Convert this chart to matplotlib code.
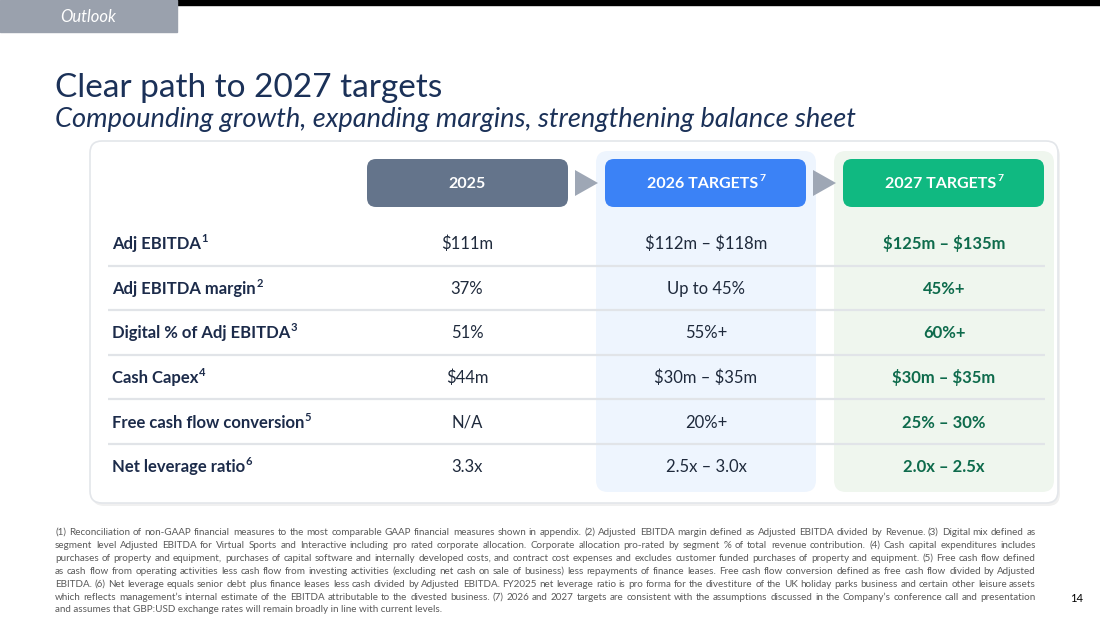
import matplotlib
matplotlib.use("Agg")
import matplotlib.pyplot as plt
from matplotlib.patches import FancyBboxPatch, Rectangle, Polygon

# ---------------- data ----------------
section = "Outlook"
title = "Clear path to 2027 targets"
subtitle = "Compounding growth, expanding margins, strengthening balance sheet"
col_headers = ["2025", "2026 TARGETS", "2027 TARGETS"]
col_header_sups = ["", "7", "7"]
metrics = ["Adj EBITDA", "Adj EBITDA margin", "Digital % of Adj EBITDA",
           "Cash Capex", "Free cash flow conversion", "Net leverage ratio"]
metric_sups = ["1", "2", "3", "4", "5", "6"]
vals_2025 = ["$111m", "37%", "51%", "$44m", "N/A", "3.3x"]
vals_2026 = ["$112m – $118m", "Up to 45%", "55%+", "$30m – $35m", "20%+", "2.5x – 3.0x"]
vals_2027 = ["$125m – $135m", "45%+", "60%+", "$30m – $35m", "25% – 30%", "2.0x – 2.5x"]
footnotes = [
    "(1) Reconciliation of non-GAAP financial measures to the most comparable GAAP financial measures shown in appendix. (2) Adjusted EBITDA margin defined as Adjusted EBITDA divided by Revenue. (3) Digital mix defined as",
    "segment level Adjusted EBITDA for Virtual Sports and Interactive including pro rated corporate allocation. Corporate allocation pro-rated by segment % of total revenue contribution. (4) Cash capital expenditures includes",
    "purchases of property and equipment, purchases of capital software and internally developed costs, and contract cost expenses and excludes customer funded purchases of property and equipment. (5) Free cash flow defined",
    "as cash flow from operating activities less cash flow from investing activities (excluding net cash on sale of business) less repayments of finance leases. Free cash flow conversion defined as free cash flow divided by Adjusted",
    "EBITDA. (6) Net leverage equals senior debt plus finance leases less cash divided by Adjusted EBITDA. FY2025 net leverage ratio is pro forma for the divestiture of the UK holiday parks business and certain other leisure assets",
    "which reflects management\u2019s internal estimate of the EBITDA attributable to the divested business. (7) 2026 and 2027 targets are consistent with the assumptions discussed in the Company\u2019s conference call and presentation",
    "and assumes that GBP:USD exchange rates will remain broadly in line with current levels.",
]
page_number = "14"

# ---------------- style ----------------
FONT = "Lato"
plt.rcParams["font.family"] = [FONT, "DejaVu Sans"]
NAVY = "#1b3158"
LABEL = "#1c2b4a"
VAL = "#1f2a3c"
GREEN_TXT = "#0e6b4c"
PILL_COLORS = ["#64748b", "#3b82f6", "#10b981"]
COL_BG = [None, "#eef5fe", "#eff6ee"]

fig = plt.figure(figsize=(11, 6.19), dpi=100)
ax = fig.add_axes([0, 0, 1, 1])
ax.set_xlim(0, 1100)
ax.set_ylim(619, 0)
ax.axis("off")
renderer = fig.canvas.get_renderer()


def txt(x, y, s, **kw):
    return ax.text(x, y, s, parse_math=False, **kw)


def width_of(t):
    return t.get_window_extent(renderer).width


# top bars
ax.add_patch(Rectangle((177, 0), 923, 5, color="black", zorder=1))
ax.add_patch(Rectangle((0, 0), 177, 32, color="#9aa1ad", zorder=2))
txt(88, 16.5, section, color="white", fontsize=12, style="italic",
    ha="center", va="center", zorder=3)

# titles
txt(55, 97, title, color=NAVY, fontsize=24, ha="left", va="baseline")
txt(55, 127, subtitle, color=NAVY, fontsize=19.6, style="italic",
    ha="left", va="baseline")

# card with shadow
ax.add_patch(FancyBboxPatch((92, 144), 968, 362, boxstyle="round,pad=0,rounding_size=12",
                            fc="#000000", ec="none", alpha=0.06, zorder=1))
ax.add_patch(FancyBboxPatch((90, 141), 968, 362, boxstyle="round,pad=0,rounding_size=12",
                            fc="white", ec="#e3e6ea", lw=1.2, zorder=2))

# column backgrounds
col_x = [(367, 568), (596, 816), (834, 1054)]
for i, bg in enumerate(COL_BG):
    if bg:
        x0, x1 = col_x[i]
        ax.add_patch(FancyBboxPatch((x0, 151), x1 - x0, 341,
                                    boxstyle="round,pad=0,rounding_size=12",
                                    fc=bg, ec="none", zorder=3))

# header pills
pill_x = [(367, 568), (605, 806), (843, 1044)]
col_centers = [467, 706, 944]
for i, (hdr, sup) in enumerate(zip(col_headers, col_header_sups)):
    x0, x1 = pill_x[i]
    ax.add_patch(FancyBboxPatch((x0, 159), x1 - x0, 48,
                                boxstyle="round,pad=0,rounding_size=9",
                                fc=PILL_COLORS[i], ec="none", zorder=4))
    t = txt(0, 0, hdr, fontsize=11.5, fontweight="bold", color="white")
    w = width_of(t)
    t.remove()
    ws = 0
    if sup:
        ts = txt(0, 0, sup, fontsize=7.5, fontweight="bold", color="white")
        ws = width_of(ts)
        ts.remove()
    xl = col_centers[i] - (w + ws) / 2
    txt(xl, 188, hdr, fontsize=11.5, fontweight="bold", color="white",
        ha="left", va="baseline", zorder=5)
    if sup:
        txt(xl + w + 0.5, 181, sup, fontsize=7.5, fontweight="bold",
            color="white", ha="left", va="baseline", zorder=5)

# arrows between pills
for xa in [575, 813]:
    ax.add_patch(Polygon([(xa, 170), (xa, 196), (xa + 23, 183)], closed=True,
                         fc="#9ea7b5", ec="none", zorder=4))

# rows
row_y = [244, 289, 333, 378, 423, 467]
sep_y = [266, 310, 355, 399, 444]
for y in sep_y:
    ax.plot([108, 1045], [y, y], color="#e1e4e8", lw=1.6, zorder=4,
            solid_capstyle="butt")

for i, (m, s) in enumerate(zip(metrics, metric_sups)):
    y = row_y[i]
    t = txt(112, y + 5, m, fontsize=12, fontweight="bold", color=LABEL,
            ha="left", va="baseline", zorder=5)
    w = width_of(t)
    txt(112 + w + 0.5, y - 2, s, fontsize=8, fontweight="bold",
        color=LABEL, ha="left", va="baseline", zorder=5)
    txt(col_centers[0], y + 5, vals_2025[i], fontsize=12, color=VAL,
        ha="center", va="baseline", zorder=5)
    txt(col_centers[1], y + 5, vals_2026[i], fontsize=12, color=VAL,
        ha="center", va="baseline", zorder=5)
    txt(col_centers[2], y + 5, vals_2027[i], fontsize=12, color=GREEN_TXT,
        fontweight="bold", ha="center", va="baseline", zorder=5)

# footnotes (justified)
FN_SIZE = 7.1
FN_COLOR = "#5a5a5a"
left, right = 55, 1036
for li, line in enumerate(footnotes):
    y = 535 + li * 12.9
    if li == len(footnotes) - 1:
        txt(left, y, line, fontsize=FN_SIZE, color=FN_COLOR, ha="left",
            va="baseline")
        continue
    words = line.split(" ")
    texts = []
    widths = []
    for wd in words:
        t = txt(0, y, wd, fontsize=FN_SIZE, color=FN_COLOR, ha="left",
                va="baseline")
        texts.append(t)
        widths.append(width_of(t))
    gap = (right - left - sum(widths)) / (len(words) - 1)
    x = left
    for t, wdt in zip(texts, widths):
        t.set_x(x)
        x += wdt + gap

txt(1077, 599, page_number, fontsize=8, color="black", ha="center",
    va="center")

fig.savefig("out.png", dpi=100)
